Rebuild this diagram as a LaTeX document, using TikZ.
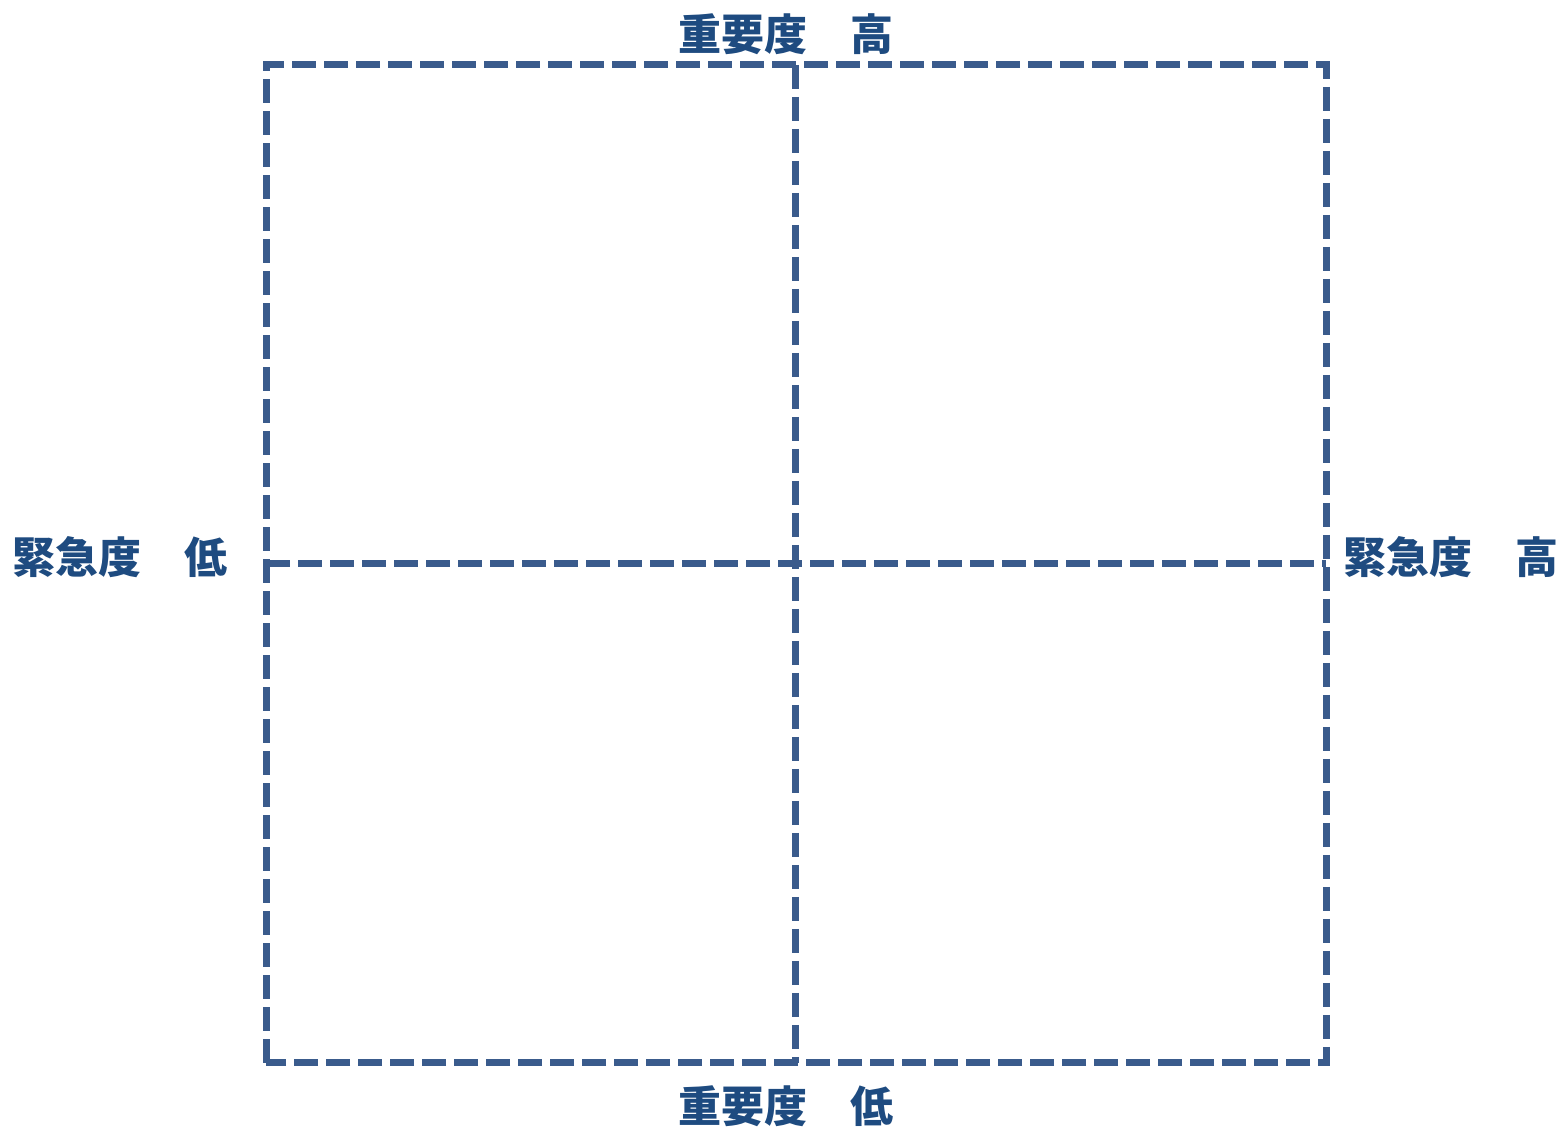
\documentclass[tikz,border=0pt]{standalone}
\usepackage{fontspec}
\newfontfamily\cjk{Noto Sans CJK JP}
\definecolor{gridblue}{HTML}{3A5B8C}
\definecolor{labelblue}{HTML}{1E4B80}
\begin{document}
\begin{tikzpicture}[
    x=1pt, y=1pt,
    gridline/.style={draw=gridblue, line width=7pt, dash pattern=on 24pt off 8pt},
    axislabel/.style={text=labelblue, font=\cjk\bfseries\fontsize{43}{43}\selectfont, inner sep=0pt}
]
    \useasboundingbox (0,0) rectangle (1560,1129);

    % Ecken und Mitte des Rasters
    \coordinate (sw) at (266, 66);
    \coordinate (ne) at (1326, 1064);
    \coordinate (n) at (795, 1064);
    \coordinate (s) at (795, 66);
    \coordinate (w) at (266, 565);
    \coordinate (e) at (1326, 565);

    \draw[gridline] (sw) rectangle (ne);
    \draw[gridline] (n) -- (s);
    \draw[gridline] (w) -- (e);

    \node[axislabel] (imphigh) at (786, 1095) {重要度　高};
    \node[axislabel] (implow) at (786, 23) {重要度　低};
    \node[axislabel] (urglow) at (120, 572) {緊急度　低};
    \node[axislabel] (urghigh) at (1451, 572) {緊急度　高};
\end{tikzpicture}
\end{document}
